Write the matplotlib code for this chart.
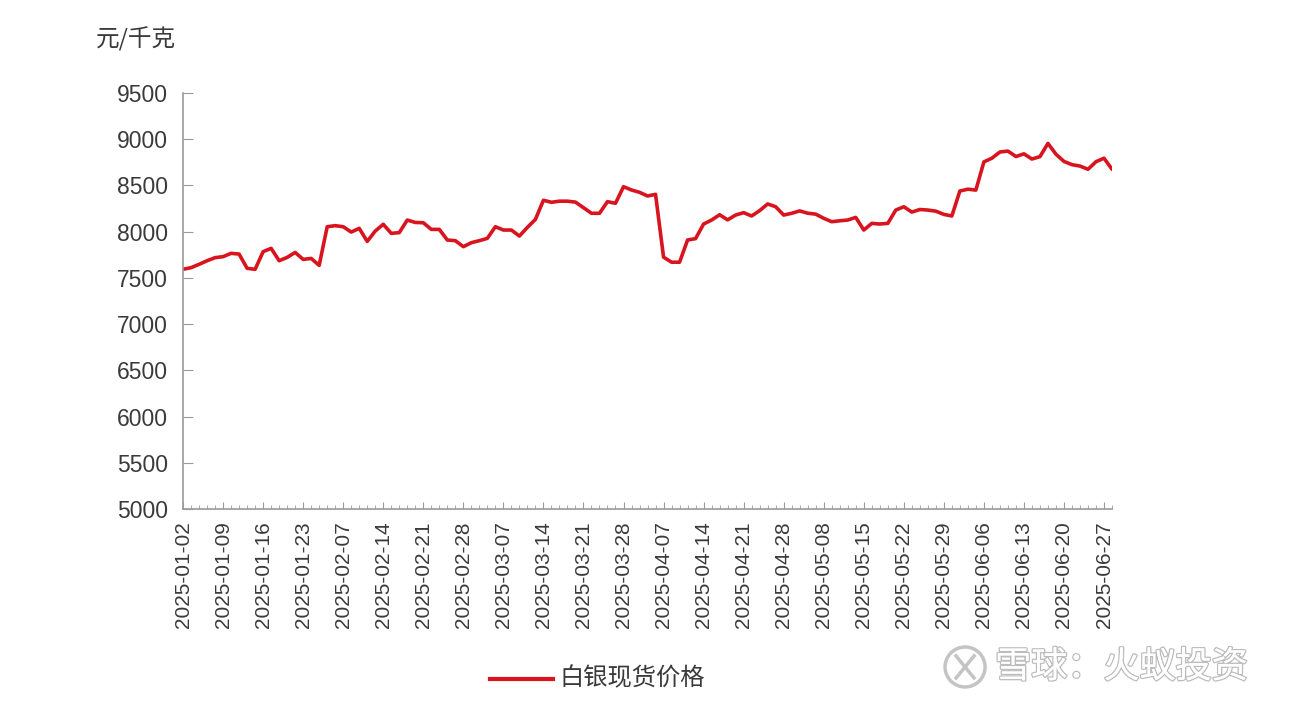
import matplotlib
matplotlib.use("Agg")
import matplotlib.pyplot as plt
import matplotlib.patheffects as pe
from matplotlib.patches import Ellipse
from matplotlib.lines import Line2D
from matplotlib.ticker import MultipleLocator

plt.rcParams["font.family"] = ["Liberation Sans", "Noto Sans CJK SC", "DejaVu Sans"]

# 白银现货价格, 元/千克, one value per trading day 2025-01-02 .. 2025-06-30
prices = [
    7593, 7611, 7647, 7686, 7719, 7730, 7766, 7758, 7604, 7593,
    7784, 7820, 7686, 7722, 7776, 7700, 7711, 7636, 8054, 8065,
    8054, 7996, 8036, 7895, 8007, 8080, 7982, 7990, 8126, 8100,
    8097, 8025, 8025, 7910, 7903, 7838, 7881, 7903, 7928, 8054,
    8018, 8018, 7953, 8047, 8133, 8340, 8318, 8330, 8330, 8320,
    8260, 8199, 8199, 8325, 8307, 8487, 8451, 8426, 8386, 8404,
    7725, 7670, 7670, 7910, 7925, 8083, 8126, 8183, 8128, 8180,
    8206, 8170, 8228, 8300, 8270, 8180, 8199, 8225, 8200, 8190,
    8145, 8108, 8118, 8126, 8155, 8018, 8090, 8083, 8090, 8234,
    8270, 8212, 8240, 8234, 8222, 8187, 8170, 8440, 8460, 8450,
    8755, 8795, 8862, 8872, 8813, 8842, 8786, 8812, 8955, 8838,
    8760, 8725, 8710, 8675, 8757, 8795, 8675,
]
tick_labels = [
    "2025-01-02", "2025-01-09", "2025-01-16", "2025-01-23", "2025-02-07", "2025-02-14",
    "2025-02-21", "2025-02-28", "2025-03-07", "2025-03-14", "2025-03-21", "2025-03-28",
    "2025-04-07", "2025-04-14", "2025-04-21", "2025-04-28", "2025-05-08", "2025-05-15",
    "2025-05-22", "2025-05-29", "2025-06-06", "2025-06-13", "2025-06-20", "2025-06-27",
]
tick_step = 5
y_ticks = [5000, 5500, 6000, 6500, 7000, 7500, 8000, 8500, 9000, 9500]
unit = "元/千克"
series_name = "白银现货价格"
watermark = "雪球：火蚁投资"

RED = "#D8141E"
GRAY = "#9A9A9A"
TXT = "#3A3A3A"
WM = "#C4C4C4"
CJK = ["Noto Sans CJK SC", "DejaVu Sans"]

fig = plt.figure(figsize=(12.89, 7.10), dpi=100)
ax = fig.add_axes([0.142, 0.283, 0.7207, 0.586])
x = list(range(len(prices)))
ax.plot(x, prices, color=RED, lw=2.6, solid_joinstyle="round", solid_capstyle="round")

ax.set_ylim(y_ticks[0], y_ticks[-1])
ax.set_yticks(y_ticks)
ax.set_yticklabels([str(v) for v in y_ticks], fontsize=16.5, color=TXT)
ax.set_xlim(0, len(prices) - 1)
ax.set_xticks([i * tick_step for i in range(len(tick_labels))])
ax.set_xticklabels(tick_labels, rotation=90, fontsize=15, color=TXT)
ax.xaxis.set_minor_locator(MultipleLocator(1))

for s in ["top", "right"]:
    ax.spines[s].set_visible(False)
for s in ["left", "bottom"]:
    ax.spines[s].set_color(GRAY)
    ax.spines[s].set_linewidth(1.2)
ax.tick_params(axis="y", direction="in", length=7, color=GRAY, pad=11)
ax.tick_params(axis="x", which="major", direction="in", length=5, color=GRAY, pad=9)
ax.tick_params(axis="x", which="minor", direction="in", length=3, color=GRAY)

fig.text(0.074, 0.945, unit, fontsize=17, color=TXT, family=CJK, va="center")

# legend drawn by hand below the axis
fig.add_artist(Line2D([0.380, 0.429], [0.044, 0.044], color=RED, lw=3, transform=fig.transFigure))
fig.text(0.434, 0.044, series_name, fontsize=17.5, color=TXT, va="center", family=CJK)

# watermark
wm = fig.text(0.772, 0.060, watermark, fontsize=26, color="white", va="center", family=CJK)
wm.set_path_effects([pe.withStroke(linewidth=2, foreground="#BDBDBD"), pe.Normal()])
cx, cy, r = 0.7487, 0.0606, 20
fig.add_artist(Ellipse((cx, cy), 2 * r / 1289, 2 * r / 710, transform=fig.transFigure,
                       fill=False, ec=WM, lw=2.5))
dx, dy = 9 / 1289, 11 / 710
fig.add_artist(Line2D([cx - dx, cx + dx], [cy - dy, cy + dy], color=WM, lw=2.5, transform=fig.transFigure))
fig.add_artist(Line2D([cx - dx, cx + dx], [cy + dy, cy - dy], color=WM, lw=2.5, transform=fig.transFigure))

fig.savefig("out.png", dpi=100, facecolor="white")
